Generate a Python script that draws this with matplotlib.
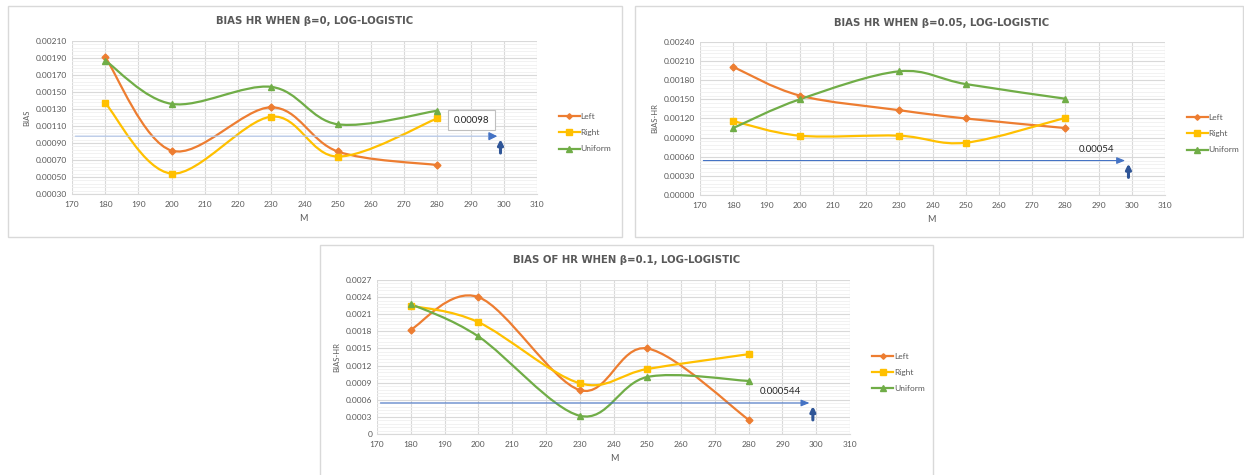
import numpy as np
import matplotlib
matplotlib.use("Agg")
import matplotlib.pyplot as plt
from matplotlib.path import Path
from matplotlib.patches import PathPatch, Rectangle
from matplotlib.lines import Line2D
from matplotlib.ticker import MultipleLocator, AutoMinorLocator, FormatStrFormatter

plt.rcParams['font.family'] = ['Lato', 'DejaVu Sans']

# data
m_values = [180, 200, 230, 250, 280]
series_names = ["Left", "Right", "Uniform"]

left_b0 = [0.00191, 0.00081, 0.00132, 0.00080, 0.00064]
right_b0 = [0.00137, 0.00054, 0.00121, 0.00074, 0.00119]
uniform_b0 = [0.00187, 0.00136, 0.00156, 0.00112, 0.00128]

left_b005 = [0.00201, 0.00156, 0.00133, 0.00120, 0.00105]
right_b005 = [0.00116, 0.00093, 0.00093, 0.00082, 0.00121]
uniform_b005 = [0.00105, 0.00150, 0.00194, 0.00174, 0.00151]

left_b01 = [0.00183, 0.00240, 0.00077, 0.00150, 0.00025]
right_b01 = [0.00225, 0.00196, 0.00089, 0.00114, 0.00140]
uniform_b01 = [0.00228, 0.00171, 0.00032, 0.00100, 0.00093]

ref_values = [0.00098, 0.00054, 0.000544]
ref_labels = ["0.00098", "0.00054", "0.000544"]

titles = ["BIAS HR WHEN β=0, LOG-LOGISTIC",
          "BIAS HR WHEN β=0.05, LOG-LOGISTIC",
          "BIAS OF HR WHEN β=0.1, LOG-LOGISTIC"]
ylabels = ["BIAS", "BIAS-HR", "BIAS-HR"]

colors = ["#ED7D31", "#FFC000", "#70AD47"]
markers = ["D", "s", "^"]
msizes = [3.5, 5, 5]
gray = "#595959"


def smooth_path(xs, ys):
    # excel style smoothed line (catmull-rom -> cubic bezier)
    pts = np.column_stack([xs, ys]).astype(float)
    n = len(pts)
    verts = [pts[0]]
    codes = [Path.MOVETO]
    for i in range(n - 1):
        p0 = pts[i - 1] if i > 0 else pts[i]
        p1 = pts[i]
        p2 = pts[i + 1]
        p3 = pts[i + 2] if i + 2 < n else pts[i + 1]
        verts += [p1 + (p2 - p0) / 6, p2 - (p3 - p1) / 6, p2]
        codes += [Path.CURVE4] * 3
    return Path(verts, codes)


fig = plt.figure(figsize=(12.44, 4.75), dpi=100)

# panel frames (pixel boxes -> figure fraction)
for (x0, y0, x1, y1) in [(8, 6, 622, 237), (635, 6, 1243, 237), (320, 245, 933, 476)]:
    fig.patches.append(Rectangle((x0 / 1244, 1 - y1 / 475), (x1 - x0) / 1244, (y1 - y0) / 475,
                                 transform=fig.transFigure, fill=False, ec="#d9d9d9", lw=1))

axes_pos = [[0.0579, 0.5916, 0.3738, 0.3221],
            [0.5627, 0.5895, 0.3738, 0.3221],
            [0.3031, 0.0863, 0.3802, 0.3242]]
ylims = [(0.0003, 0.0021), (0.0, 0.0024), (0.0, 0.0027)]
ysteps = [0.0002, 0.0003, 0.0003]
yoffsets = [0.0001, 0.0, 0.0]
all_data = [[left_b0, right_b0, uniform_b0],
            [left_b005, right_b005, uniform_b005],
            [left_b01, right_b01, uniform_b01]]
title_xy = [(0.253, 0.956), (0.757, 0.952), (0.504, 0.453)]
xlabel_xy = [(0.244, 0.539), (0.749, 0.537), (0.494, 0.034)]

for k in range(3):
    ax = fig.add_axes(axes_pos[k])
    ax.set_xlim(170, 310)
    ax.set_ylim(*ylims[k])
    ax.xaxis.set_major_locator(MultipleLocator(10))
    ax.yaxis.set_major_locator(MultipleLocator(ysteps[k], offset=yoffsets[k]))
    ax.yaxis.set_minor_locator(AutoMinorLocator(5))
    if k < 2:
        ax.yaxis.set_major_formatter(FormatStrFormatter("%.5f"))
    else:
        ax.yaxis.set_major_formatter(plt.FuncFormatter(lambda v, p: "0" if abs(v) < 1e-12 else "%.4f" % v))
    ax.grid(which="major", color="#d9d9d9", lw=0.8)
    ax.grid(which="minor", axis="y", color="#f0f0f0", lw=0.6)
    ax.set_axisbelow(True)
    for s in ax.spines.values():
        s.set_visible(False)
    ax.spines["bottom"].set_visible(True)
    ax.spines["bottom"].set_color("#d9d9d9")
    ax.tick_params(which="both", length=0, labelsize=6, labelcolor=gray)
    ax.tick_params(axis="x", pad=5)

    for j in range(3):
        ys = all_data[k][j]
        ax.add_patch(PathPatch(smooth_path(m_values, ys), fill=False, ec=colors[j], lw=1.6, zorder=3))
        ax.plot(m_values, ys, ls="none", marker=markers[j], ms=msizes[j], color=colors[j], zorder=4)

    # reference line with arrow
    ref = ref_values[k]
    lc = "#b4c7e7" if k == 0 else "#4472c4"
    ax.annotate("", xy=(298, ref), xytext=(171, ref),
                arrowprops=dict(arrowstyle="-|>,head_length=0.5,head_width=0.2",
                                color=lc, lw=0.9 if k == 0 else 0.8, shrinkA=0, shrinkB=0), zorder=5)
    if k == 0:
        ax.annotate("", xy=(298, ref), xytext=(296.5, ref),
                    arrowprops=dict(arrowstyle="-|>,head_length=0.5,head_width=0.25",
                                    color="#4472c4", lw=0.8, shrinkA=0, shrinkB=0), zorder=6)
    span = ylims[k][1] - ylims[k][0]
    ax.annotate("", xy=(299, ref - 0.02 * span), xytext=(299, ref - 0.11 * span),
                arrowprops=dict(arrowstyle="-|>,head_length=0.3,head_width=0.15",
                                color="#2f5597", lw=2.2, shrinkA=0, shrinkB=0), zorder=6)
    if k == 0:
        ax.text(290.2, ref + 0.105 * span, ref_labels[k], ha="center", va="center", fontsize=7,
                color="#262626", zorder=7,
                bbox=dict(boxstyle="square,pad=0.6", fc="white", ec="#bfbfbf", lw=0.8))
    else:
        ax.text(289.5, ref + 0.075 * span, ref_labels[k], ha="center", va="center", fontsize=7,
                color="#262626", zorder=7)

    ax.set_ylabel(ylabels[k], fontsize=5.5, color=gray, labelpad=4)
    fig.text(xlabel_xy[k][0], xlabel_xy[k][1], "M", fontsize=6.5, color=gray, ha="center", va="center")
    fig.text(title_xy[k][0], title_xy[k][1], titles[k], fontsize=7.3, fontweight="bold", color=gray,
             ha="center", va="center", family=["DejaVu Sans"])

    handles = [Line2D([0], [0], color=colors[j], lw=1.6, marker=markers[j], ms=msizes[j] * 0.8)
               for j in range(3)]
    leg = ax.legend(handles, series_names, loc="center left", bbox_to_anchor=(1.047, 0.40),
                    frameon=False, fontsize=6, handlelength=2.5, labelspacing=1.1, handletextpad=0.1,
                    borderaxespad=0, borderpad=0)
    for t in leg.get_texts():
        t.set_color(gray)

fig.savefig("out.png", dpi=100, facecolor="white")
